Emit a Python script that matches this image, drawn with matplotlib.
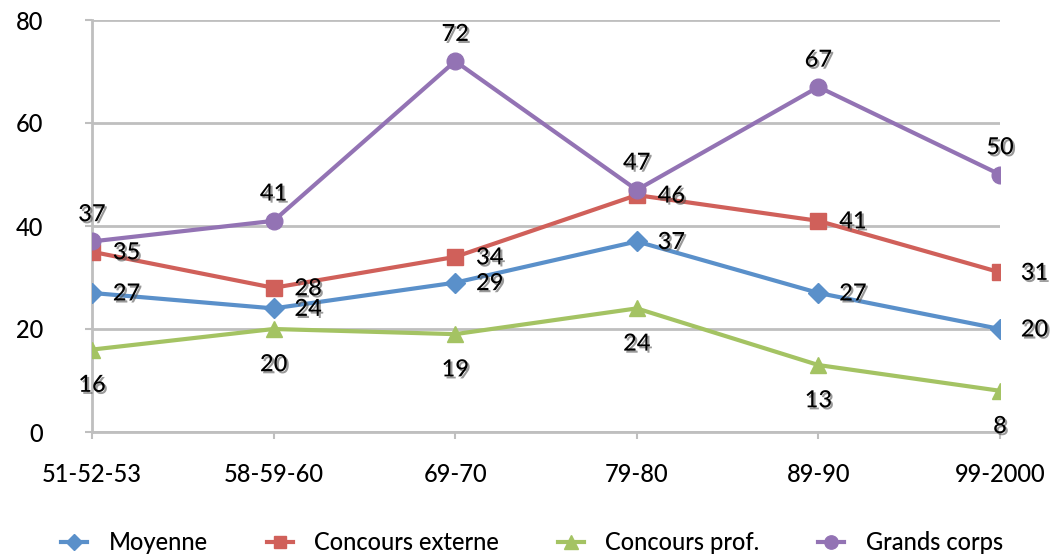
import matplotlib
matplotlib.use("Agg")
import matplotlib.pyplot as plt
import matplotlib.patheffects as pe

# ---- Data ----
periods = ["51-52-53", "58-59-60", "69-70", "79-80", "89-90", "99-2000"]
moyenne = [27, 24, 29, 37, 27, 20]
concours_externe = [35, 28, 34, 46, 41, 31]
concours_prof = [16, 20, 19, 24, 13, 8]
grands_corps = [37, 41, 72, 47, 67, 50]

plt.rcParams['font.family'] = ['Lato', 'DejaVu Sans']
plt.rcParams['font.weight'] = 500

fig = plt.figure(figsize=(10.64, 5.56), dpi=100)
ax = fig.add_axes([92 / 1064, 124 / 556, 908 / 1064, 412 / 556])

x = list(range(len(periods)))
grid_col = "#bfbfbf"
fs = 17

# series: values, label, colour, marker, marker size, label placement
series = [
    (moyenne, "Moyenne", "#5a90ca", "D", 10, "right"),
    (concours_externe, "Concours externe", "#d0605a", "s", 11, "right"),
    (concours_prof, "Concours prof.", "#a4c363", "^", 12, "below"),
    (grands_corps, "Grands corps", "#9373b4", "o", 12, "above"),
]

shadow = [pe.withSimplePatchShadow(offset=(1.5, -1.5), shadow_rgbFace="#555555", alpha=0.6)]

for vals, name, col, mk, ms, where in series:
    ax.plot(x, vals, color=col, lw=3, marker=mk, markersize=ms, label=name, zorder=3)
    for xi, v in zip(x, vals):
        if where == "right":
            off, ha, va = (15, 0), "left", "center"
        elif where == "above":
            off, ha, va = (0, 20), "center", "center"
        else:
            off, ha, va = (0, -25), "center", "center"
        ax.annotate(str(v), (xi, v), xytext=off, textcoords="offset points",
                    ha=ha, va=va, fontsize=fs, color="black", path_effects=shadow, zorder=5)

ax.set_xlim(0, 5)
ax.set_ylim(0, 80)
ax.set_yticks([0, 20, 40, 60, 80])
ax.set_xticks(x)
ax.set_xticklabels(periods)
ax.yaxis.grid(True, color=grid_col, lw=2)
ax.set_axisbelow(True)
for s in ["top", "right"]:
    ax.spines[s].set_visible(False)
for s in ["left", "bottom"]:
    ax.spines[s].set_color(grid_col)
    ax.spines[s].set_linewidth(2)
ax.tick_params(axis="both", colors=grid_col, width=1.5, length=5, labelsize=fs, labelcolor="black")
ax.tick_params(axis="y", pad=30)
ax.tick_params(axis="x", pad=17)

fig.legend(loc="lower center", bbox_to_anchor=(0.5, -0.035), ncol=4, frameon=False,
           fontsize=fs, handlelength=1.1, handletextpad=0.9, columnspacing=2.5, markerscale=0.8)

fig.savefig("out.png", dpi=100)
